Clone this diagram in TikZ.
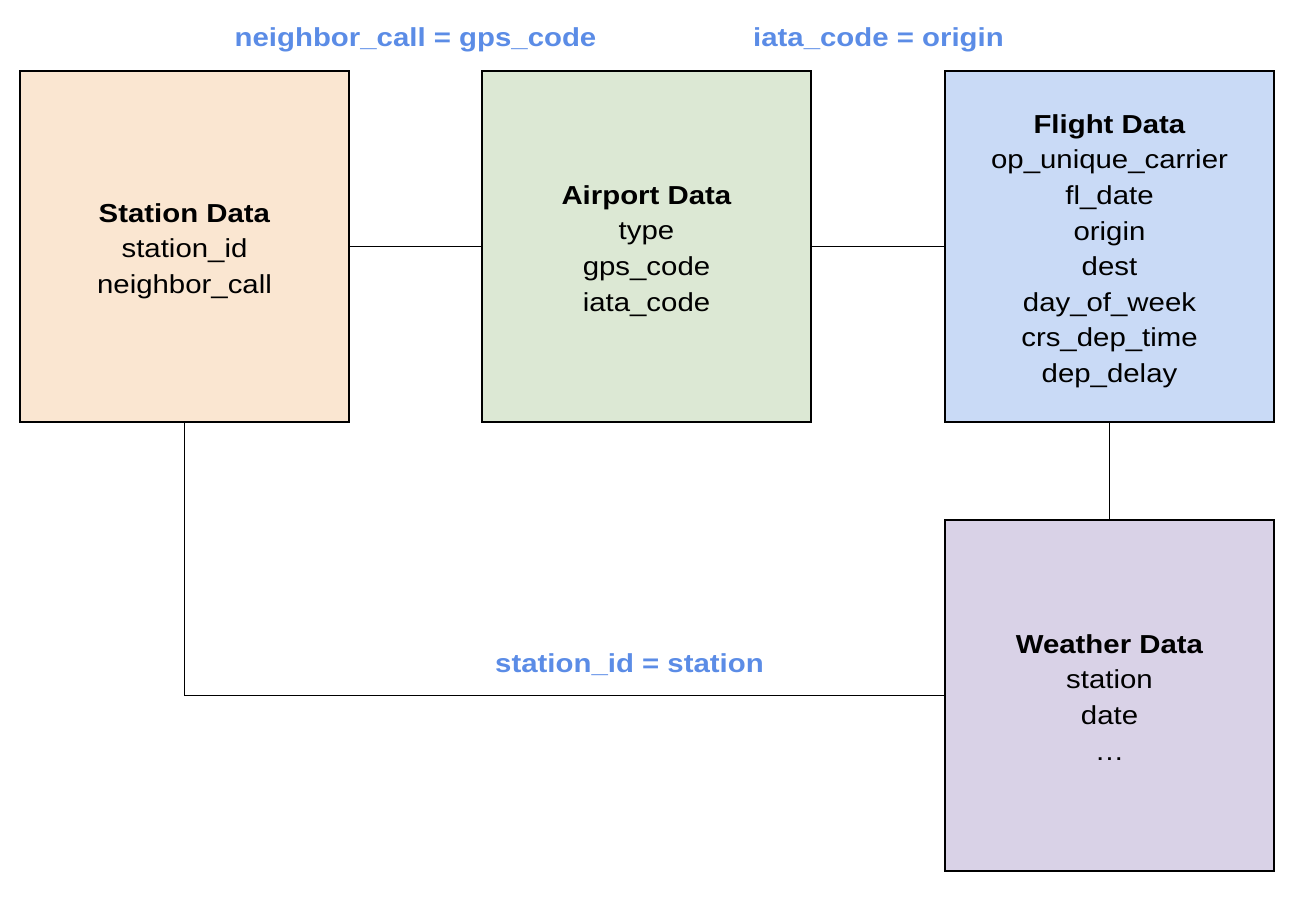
\documentclass[tikz,border=0pt]{standalone}
\usepackage{fontspec}
\setmainfont{Liberation Sans}[FakeStretch=1.13]
\definecolor{peach}{HTML}{FAE6D1}
\definecolor{sage}{HTML}{DCE8D4}
\definecolor{sky}{HTML}{C9DAF6}
\definecolor{lilac}{HTML}{D9D2E7}
\definecolor{joinblue}{HTML}{5B8CE6}
\begin{document}
\begin{tikzpicture}[x=1pt,y=-1pt,
  box/.style={draw=black, line width=1.5pt, minimum width=329pt, minimum height=351pt, inner sep=0pt},
  txt/.style={align=center, inner sep=0pt, anchor=north, font=\fontsize{26}{35.6}\selectfont},
  joinlbl/.style={inner sep=0pt, anchor=base, text=joinblue, font=\fontsize{26}{35.6}\selectfont\bfseries},
  link/.style={line width=1.5pt}]
\useasboundingbox (0,0) rectangle (1308,904);
% boxes
\node[box, fill=peach] (st) at (184.5,246.5) {};
\node[box, fill=sage]  (ap) at (646.5,246.5) {};
\node[box, fill=sky]   (fl) at (1109.5,246.5) {};
\node[box, fill=lilac] (we) at (1109.5,695.5) {};
% texts
\node[txt] (stt) at (184.5,198) {\rule{0pt}{24pt}\textbf{Station Data}\\station\_id\\neighbor\_call};
\node[txt] (apt) at (646.5,180) {\rule{0pt}{24pt}\textbf{Airport Data}\\type\\gps\_code\\iata\_code};
\node[txt] (flt) at (1109.5,109) {\rule{0pt}{24pt}\textbf{Flight Data}\\op\_unique\_carrier\\fl\_date\\origin\\dest\\day\_of\_week\\crs\_dep\_time\\dep\_delay};
\node[txt] (wet) at (1109.5,629) {\rule{0pt}{24pt}\textbf{Weather Data}\\station\\date\\…};
% connectors
\draw[link] (st.east) -- (ap.west);
\draw[link] (ap.east) -- (fl.west);
\draw[link] (fl.south) -- (we.north);
\draw[link] (st.south) |- (we.west);
% join labels
\node[joinlbl] (l1) at (415.5,47) {neighbor\_call = gps\_code};
\node[joinlbl] (l2) at (878.5,47) {iata\_code = origin};
\node[joinlbl] (l3) at (629.5,672) {station\_id = station};
\end{tikzpicture}
\end{document}
